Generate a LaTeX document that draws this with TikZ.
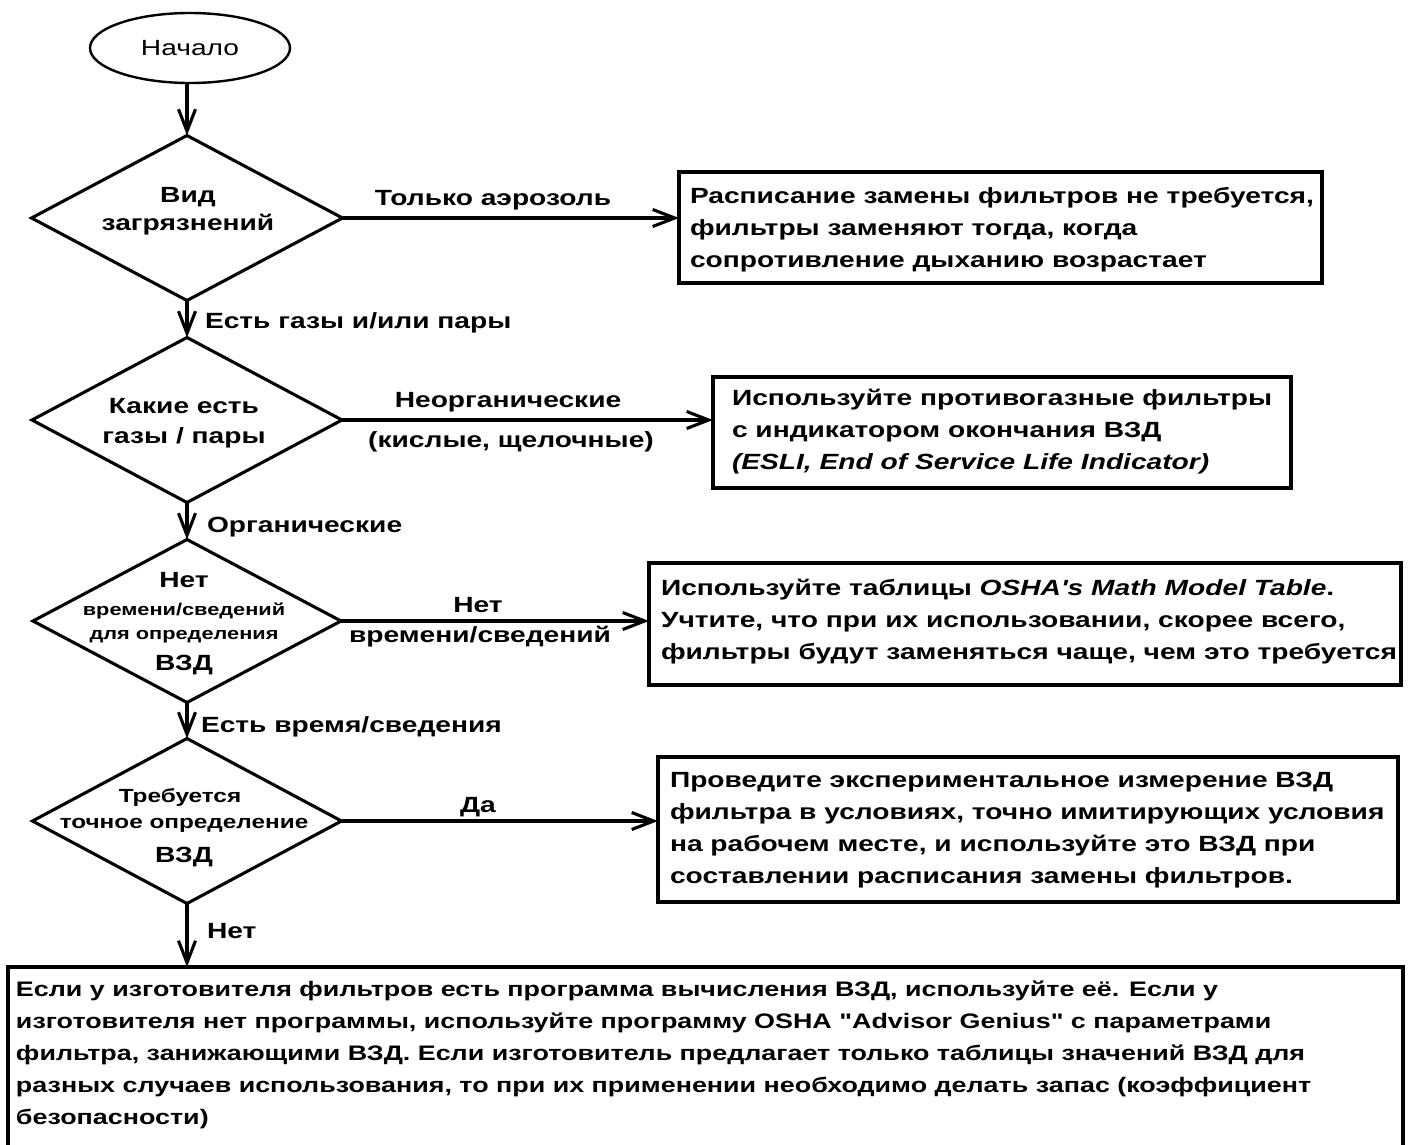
\documentclass[tikz,border=0pt]{standalone}
\usepackage{fontspec}
\setmainfont{Liberation Sans}[FakeStretch=1.28,Ligatures=TeXOff]
\usetikzlibrary{shapes.geometric,arrows.meta}
\newcommand{\lbfont}{\fontsize{22}{32}\selectfont\bfseries}
\newcommand{\bxfont}{\fontsize{21}{32}\selectfont\bfseries}
\newcommand{\smfont}{\fontsize{17}{24}\selectfont\bfseries}
\newcommand{\mdfont}{\fontsize{19}{26}\selectfont\bfseries}
\newcommand{\rgfont}{\fontsize{22}{32}\selectfont}
\begin{document}
\begin{tikzpicture}[x=1pt,y=-1pt,line width=3.1pt,
  every node/.style={inner sep=0pt,outer sep=0pt},
  frame/.style={draw,rectangle,anchor=north west},
  dec/.style={draw,diamond},
  btext/.style={anchor=north west,align=left,font=\lbfont},
  lbl/.style={font=\lbfont},
  sml/.style={font=\smfont},
  mdl/.style={font=\mdfont},
  arr/.style={-{Straight Barb[length=22pt,width=17pt]}}]
\useasboundingbox (0,0) rectangle (1413,1144);

% start
\node[draw,ellipse,line width=2.4pt,minimum width=200pt,minimum height=70pt,font=\rgfont] (start) at (190,48) {Начало};

% decisions
\node[dec,minimum width=311pt,minimum height=165pt] (d1) at (187,218) {};
\node[dec,minimum width=310pt,minimum height=165pt] (d2) at (187,420) {};
\node[dec,minimum width=308pt,minimum height=163pt] (d3) at (187,621) {};
\node[dec,minimum width=309pt,minimum height=165pt] (d4) at (187,821) {};

\node[lbl,anchor=base] (d1a) at (188,202) {Вид};
\node[lbl,anchor=base] (d1b) at (188,230) {загрязнений};
\node[lbl,anchor=base] (d2a) at (184,413) {Какие есть};
\node[lbl,anchor=base] (d2b) at (184,443) {газы / пары};
\node[lbl,anchor=base] (d3a) at (184,587) {Нет};
\node[sml,anchor=base] (d3b) at (184,615) {времени/сведений};
\node[sml,anchor=base] (d3c) at (184,639) {для определения};
\node[lbl,anchor=base] (d3d) at (184,670) {ВЗД};
\node[mdl,anchor=base] (d4a) at (180,802) {Требуется};
\node[mdl,anchor=base] (d4b) at (184,828) {точное определение};
\node[lbl,anchor=base] (d4c) at (184,862) {ВЗД};

% frames
\node[frame,minimum width=643pt,minimum height=111pt] (b1) at (679,172) {};
\node[frame,minimum width=578pt,minimum height=111pt] (b2) at (713,377) {};
\node[frame,minimum width=752pt,minimum height=122pt] (b3) at (649,563) {};
\node[frame,minimum width=740pt,minimum height=145pt] (b4) at (658,757) {};
\node[frame,minimum width=1395pt,minimum height=185pt] (b5) at (8,967) {};

\node[btext] (b1t) at (690,180.6) {\strut Расписание замены фильтров не требуется,\\
фильтры заменяют тогда, когда\\
сопротивление дыханию возрастает};
\node[btext] (b2t) at (732,382.6) {\strut Используйте противогазные фильтры\\
с индикатором окончания ВЗД\\
\textit{(ESLI, End of Service Life Indicator)}};
\node[btext] (b3t) at (661,572.6) {\strut Используйте таблицы \textit{OSHA's Math Model Table}.\\
Учтите, что при их использовании, скорее всего,\\
фильтры будут заменяться чаще, чем это требуется};
\node[btext] (b4t) at (670,764.6) {\strut Проведите экспериментальное измерение ВЗД\\
фильтра в условиях, точно имитирующих условия\\
на рабочем месте, и используйте это ВЗД при\\
составлении расписания замены фильтров.};
\node[btext,font=\bxfont] (b5t) at (16,973.6) {\strut Если у изготовителя фильтров есть программа вычисления ВЗД, используйте её. Если у\\
изготовителя нет программы, используйте программу OSHA "Advisor Genius" с параметрами\\
фильтра, занижающими ВЗД. Если изготовитель предлагает только таблицы значений ВЗД для\\
разных случаев использования, то при их применении необходимо делать запас (коэффициент\\
безопасности)};

% edge labels
\node[lbl,anchor=base] (l1) at (493,205) {Только аэрозоль};
\node[lbl,anchor=base west] (l2) at (205,328) {Есть газы и/или пары};
\node[lbl,anchor=base] (l3a) at (508,407) {Неорганические};
\node[lbl,anchor=base] (l3b) at (511,447) {(кислые, щелочные)};
\node[lbl,anchor=base west] (l4) at (207,532) {Органические};
\node[lbl,anchor=base] (l5a) at (478,612) {Нет};
\node[lbl,anchor=base] (l5b) at (480,642) {времени/сведений};
\node[lbl,anchor=base west] (l6) at (201,732) {Есть время/сведения};
\node[lbl,anchor=base] (l7) at (478,812) {Да};
\node[lbl,anchor=base west] (l8) at (207,938) {Нет};

% connectors
\draw[arr] (start.south -| d1.north) -- (d1.north);
\draw[arr] (d1.south) -- (d2.north);
\draw[arr] (d2.south) -- (d3.north);
\draw[arr] (d3.south) -- (d4.north);
\draw[arr] (d4.south) -- (d4.south |- b5.north);
\draw[arr] (d1.east) -- (d1.east -| b1.west);
\draw[arr] (d2.east) -- (d2.east -| b2.west);
\draw[arr] (d3.east) -- (d3.east -| b3.west);
\draw[arr] (d4.east) -- (d4.east -| b4.west);
\end{tikzpicture}
\end{document}
